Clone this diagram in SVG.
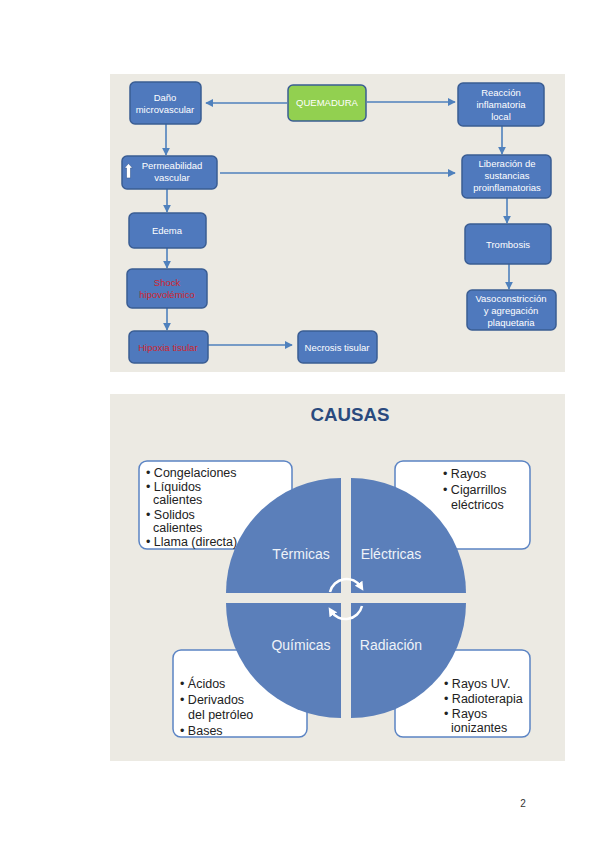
<svg xmlns="http://www.w3.org/2000/svg" width="600" height="848" viewBox="0 0 600 848">
<defs>
<marker id="ah" viewBox="0 0 10 10" refX="9" refY="5" markerWidth="8" markerHeight="8" markerUnits="userSpaceOnUse" orient="auto"><path d="M0,0 L10,5 L0,10 Z" fill="#4F81BD"/></marker>
<marker id="wh" viewBox="0 0 10 10" refX="5" refY="5" markerWidth="9" markerHeight="9" markerUnits="userSpaceOnUse" orient="auto"><path d="M0,0 L10,5 L0,10 Z" fill="#ffffff"/></marker>
<style>
.bx{fill:#4F79BD;stroke:#3A5D93;stroke-width:1.5}
.t{font-family:"Liberation Sans",Arial,sans-serif;font-size:9.5px;fill:#ffffff;text-anchor:middle}
.r{fill:#D0262D}
.c{stroke:#4F81BD;stroke-width:1.6;fill:none;marker-end:url(#ah)}
.wb{fill:#ffffff;stroke:#5B84C4;stroke-width:1.5}
.q{fill:#5B7FBA}
.ql{font-family:"Liberation Sans",Arial,sans-serif;font-size:14px;fill:#EEF2F8;text-anchor:middle}
.l{font-family:"Liberation Sans",Arial,sans-serif;font-size:12.5px;fill:#222222}
</style>
</defs>
<rect width="600" height="848" fill="#ffffff"/>
<rect x="110" y="74" width="455" height="298" fill="#ECEAE3"/>
<rect x="110" y="394" width="455" height="367" fill="#ECEAE3"/>

<g id="connectors">
<line class="c" x1="287" y1="103" x2="206" y2="103"/>
<line class="c" x1="367" y1="102" x2="455" y2="102"/>
<line class="c" x1="166" y1="124" x2="166" y2="155"/>
<line class="c" x1="502" y1="126" x2="502" y2="154"/>
<line class="c" x1="220" y1="173" x2="455" y2="173"/>
<line class="c" x1="167" y1="189" x2="167" y2="212"/>
<line class="c" x1="167" y1="248" x2="167" y2="268"/>
<line class="c" x1="167" y1="308" x2="167" y2="330"/>
<line class="c" x1="208" y1="345" x2="292" y2="345"/>
<line class="c" x1="507" y1="198" x2="507" y2="223"/>
<line class="c" x1="509" y1="264" x2="509" y2="289"/>
</g>

<g id="dano"><rect class="bx" x="130" y="82" width="71" height="42" rx="5"/><text class="t" x="165" y="101">Daño</text><text class="t" x="165" y="113">microvascular</text></g>
<g id="quemadura"><rect x="288" y="85" width="78" height="36" rx="5" fill="#92D050" stroke="#3A5D93" stroke-width="1.5"/><text class="t" x="327" y="106" font-size="10px">QUEMADURA</text></g>
<g id="reaccion"><rect class="bx" x="458" y="83" width="86" height="43" rx="5"/><text class="t" x="501" y="96">Reacción</text><text class="t" x="501" y="108">inflamatoria</text><text class="t" x="501" y="120">local</text></g>
<g id="permeabilidad"><rect class="bx" x="122" y="156" width="95" height="33" rx="5"/><path d="M126.5,178 L126.5,168 L124.5,168 L128.5,163.5 L132.5,168 L130.5,168 L130.5,178 Z" fill="#ffffff" stroke="#3A5D93" stroke-width="0.6"/><text class="t" x="172" y="169">Permeabilidad</text><text class="t" x="172" y="181">vascular</text></g>
<g id="liberacion"><rect class="bx" x="462" y="155" width="89" height="43" rx="5"/><text class="t" x="507" y="167">Liberación de</text><text class="t" x="507" y="179">sustancias</text><text class="t" x="507" y="191">proinflamatorias</text></g>
<g id="edema"><rect class="bx" x="129" y="213" width="77" height="35" rx="5"/><text class="t" x="167" y="234">Edema</text></g>
<g id="shock"><rect class="bx" x="127" y="269" width="80" height="39" rx="5"/><text class="t r" x="167" y="286">Shock</text><text class="t r" x="167" y="298">hipovolémico</text></g>
<g id="hipoxia"><rect class="bx" x="129" y="331" width="79" height="32" rx="5"/><text class="t r" x="168" y="351">Hipoxia tisular</text></g>
<g id="necrosis"><rect class="bx" x="298" y="331" width="79" height="32" rx="5"/><text class="t" x="337" y="351">Necrosis tisular</text></g>
<g id="trombosis"><rect class="bx" x="465" y="224" width="86" height="40" rx="5"/><text class="t" x="508" y="248">Trombosis</text></g>
<g id="vasoconstriccion"><rect class="bx" x="467" y="290" width="89" height="40" rx="5"/><text class="t" x="511" y="302">Vasoconstricción</text><text class="t" x="511" y="314">y agregación</text><text class="t" x="511" y="326">plaquetaria</text></g>

<text x="350" y="421" font-family="'Liberation Sans',Arial,sans-serif" font-size="19" font-weight="bold" fill="#2A4A7E" text-anchor="middle" textLength="79" lengthAdjust="spacingAndGlyphs">CAUSAS</text>

<g id="box-termicas"><rect class="wb" x="139" y="461" width="153" height="88" rx="8"/>
<text class="l" x="146" y="477">• Congelaciones</text>
<text class="l" x="146" y="491">• Líquidos</text>
<text class="l" x="153" y="504">calientes</text>
<text class="l" x="146" y="519">• Solidos</text>
<text class="l" x="153" y="532">calientes</text>
<text class="l" x="146" y="546">• Llama (directa)</text></g>
<g id="box-electricas"><rect class="wb" x="395" y="461" width="135" height="88" rx="8"/>
<text class="l" x="443" y="478" font-size="13.5px">• Rayos</text>
<text class="l" x="443" y="494" font-size="13.5px">• Cigarrillos</text>
<text class="l" x="451" y="509" font-size="13.5px">eléctricos</text></g>
<g id="box-quimicas"><rect class="wb" x="173" y="650" width="134" height="87" rx="8"/>
<text class="l" x="180" y="688" font-size="13.5px">• Ácidos</text>
<text class="l" x="180" y="704" font-size="13.5px">• Derivados</text>
<text class="l" x="188" y="719" font-size="13.5px">del petróleo</text>
<text class="l" x="180" y="735" font-size="13.5px">• Bases</text></g>
<g id="box-radiacion"><rect class="wb" x="395" y="650" width="135" height="87" rx="8"/>
<text class="l" x="444" y="688">• Rayos UV.</text>
<text class="l" x="444" y="703">• Radioterapia</text>
<text class="l" x="444" y="718">• Rayos</text>
<text class="l" x="451" y="732">ionizantes</text></g>

<g id="termicas"><path class="q" d="M341,593 L226,593 A115,115 0 0 1 341,478 Z"/><text class="ql" x="301" y="559">Térmicas</text></g>
<g id="electricas"><path class="q" d="M351,593 L351,478 A115,115 0 0 1 466,593 Z"/><text class="ql" x="391" y="559">Eléctricas</text></g>
<g id="quimicas"><path class="q" d="M341,603 L341,718 A115,115 0 0 1 226,603 Z"/><text class="ql" x="301" y="650">Químicas</text></g>
<g id="radiacion"><path class="q" d="M351,603 L466,603 A115,115 0 0 1 351,718 Z"/><text class="ql" x="391" y="650">Radiación</text></g>

<g id="cycle-arrows" fill="none" stroke="#ffffff" stroke-width="2.5">
<path d="M330,592 A17,17 0 0 1 361,587" marker-end="url(#wh)"/>
<path d="M362,606 A17,17 0 0 1 331,611" marker-end="url(#wh)"/>
</g>

<text x="523" y="807" font-family="'Liberation Sans',Arial,sans-serif" font-size="10" fill="#333333" text-anchor="middle">2</text>
</svg>
